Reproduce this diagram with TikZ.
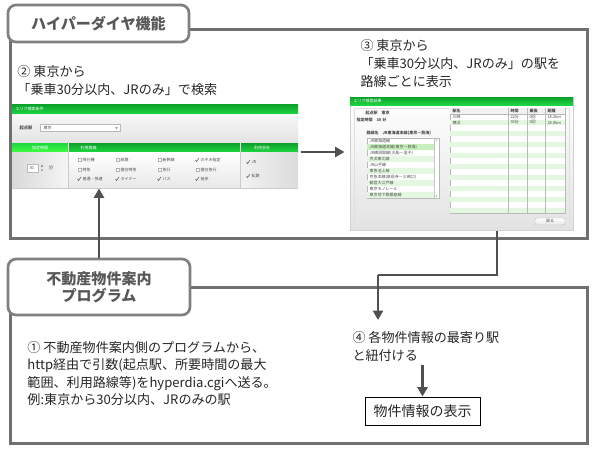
\documentclass[tikz,border=0pt]{standalone}
\usepackage{fontspec}
\setmainfont{Noto Sans CJK JP}
\usetikzlibrary{arrows.meta,positioning,calc}

\definecolor{framegray}{RGB}{112,112,112}
\definecolor{boxgray}{RGB}{128,128,128}
\definecolor{titlegray}{RGB}{88,88,88}
\definecolor{arrowgray}{RGB}{80,80,80}
\definecolor{hdgreen}{RGB}{30,214,66}
\definecolor{hdgreenD}{RGB}{12,160,42}
\definecolor{stripe}{RGB}{228,247,224}
\definecolor{selgreen}{RGB}{200,240,190}

\tikzset{every picture/.style={line width=0.75pt}}
\tikzset{
  frameline/.style={draw=framegray, line width=2.25pt},
  titlebox/.style={draw=boxgray, line width=2pt, rounded corners=6pt, fill=white, text=titlegray,
    font=\fontsize{11.3pt}{13pt}\selectfont\bfseries, align=center, inner sep=0pt},
  steptext/.style={anchor=west, inner sep=0pt, align=left, text=black!85,
    font=\fontsize{9.8pt}{13.2pt}\selectfont},
  flowarrow/.style={draw=arrowgray, line width=2pt, -{Triangle[length=7pt,width=7.5pt]}},
  shottxt/.style={anchor=west, inner sep=0pt, text=black!70, font=\fontsize{3pt}{3.6pt}\selectfont},
  shothd/.style={anchor=west, inner sep=0pt, text=white, font=\fontsize{3pt}{3.6pt}\selectfont},
  checkm/.style={draw=black!70, line width=0.35pt},
}

\begin{document}
\begin{tikzpicture}[x=0.75pt,y=0.75pt,yscale=-1,xscale=1]
\useasboundingbox (0,0) rectangle (597,454);

%Frames
\draw [frameline] (10,29) rectangle (587,238) ;
\draw [frameline] (10,287) rectangle (587,443) ;

% Title Nodes
\node [titlebox, minimum width=135.75pt, minimum height=27.75pt] (hdbox) at (98.5,23.5) {ハイパーダイヤ機能};
\node [titlebox, minimum width=136.5pt, minimum height=42pt] (progbox) at (99,287) {不動産物件案内\\プログラム};

%Screenshot nodes
\node [inner sep=0pt, minimum width=214.5pt, minimum height=63pt] (shotL) at (155,146) {};
\node [inner sep=0pt, minimum width=167.25pt, minimum height=99.75pt] (shotR) at (461.5,163.5) {};

%Left screenshot (search form)
\shade [top color=hdgreenD, bottom color=hdgreen] (12,104) rectangle (298,114) ;
\node [shothd] at (15,109) {エリア検索条件};
\shade [top color=gray!6, bottom color=gray!22] (12,114) rectangle (298,143) ;
\node [shottxt, font=\fontsize{3.2pt}{3.6pt}\selectfont\bfseries] at (19,128) {起点駅};
\draw [gray!55, line width=0.3pt, fill=white] (40,124.5) rectangle (120,131.5) ;
\node [shottxt] at (43,128) {東京};
\fill [gray!70] (115,127) -- (118,127) -- (116.5,129.5) -- cycle ;
\shade [top color=hdgreenD, bottom color=hdgreen] (12,143) rectangle (298,152) ;
\shade [top color=hdgreen, bottom color=green!75] (12,143) rectangle (68,152) ;
\draw [white, line width=0.5pt] (68,143) -- (68,152) (240,143) -- (240,152) ;
\node [shothd, anchor=center] at (40,147.5) {指定時間};
\node [shothd] at (80,147.5) {利用路線};
\node [shothd, anchor=center] at (262,147.5) {利用会社};
\shade [left color=gray!30, right color=gray!8] (12,152) rectangle (68,188) ;
\shade [top color=white, bottom color=gray!18] (68,152) rectangle (240,188) ;
\shade [left color=gray!10, right color=gray!28] (240,152) rectangle (298,188) ;
\draw [gray!40, line width=0.4pt] (68,152) -- (68,188) (240,152) -- (240,188) (12,188) -- (298,188) ;
\draw [gray!55, line width=0.3pt, fill=white] (27,164) rectangle (38,172) ;
\node [shottxt] at (29,168) {30};
\fill [black!60] (41,166.5) -- (43,166.5) -- (42,164.8) -- cycle (41,169.5) -- (43,169.5) -- (42,171.2) -- cycle ;
\node [shottxt, font=\fontsize{3.5pt}{4pt}\selectfont] at (48,168) {分};
\foreach \cx/\cy/\ct in {82/160/飛行機, 120/160/航路, 162/160/新幹線, 82/169.5/特急, 120/169.5/寝台特急, 162/169.5/急行, 200/169.5/寝台急行}
  {
  \draw [gray!60, line width=0.3pt, fill=white] (\cx-4,\cy-1.5) rectangle (\cx-1,\cy+1.5) ;
  \node [shottxt] at (\cx,\cy) {\ct};
  }
\foreach \cx/\cy/\ct in {200/160/のぞみ指定, 82/179/普通・快速, 120/179/ライナー, 162/179/バス, 200/179/徒歩, 251/162/JR, 251/176/私鉄}
  {
  \draw [checkm] (\cx-4.5,\cy) -- ++(1,1.5) -- ++(2.5,-3.5) ;
  \node [shottxt] at (\cx,\cy) {\ct};
  }

%Right screenshot (result list)
\shade [top color=white, bottom color=gray!22] (350,97) rectangle (573,230) ;
\draw [gray!35, line width=0.4pt] (350,97) rectangle (573,230) ;
\shade [top color=hdgreenD, bottom color=hdgreen] (350,97) rectangle (573,105) ;
\node [shothd] at (353,101) {エリア検索結果};
\draw [gray!25, line width=0.4pt] (354,108) rectangle (569,227) ;
\node [shottxt, font=\fontsize{3pt}{3.6pt}\selectfont\bfseries] at (365,113) {起点駅\quad 東京};
\node [shottxt, font=\fontsize{3pt}{3.6pt}\selectfont\bfseries] at (356,120) {指定時間\quad 30 分};
\node [shottxt, font=\fontsize{3pt}{3.6pt}\selectfont\bfseries] at (366,133) {路線名\quad JR東海道本線(東京－熱海)};
\draw [gray!55, line width=0.3pt, fill=white] (367,138) rectangle (439,198) ;
\foreach \i in {2,4,6,8,10}
  \fill [stripe] (367.4,{132+6*\i}) rectangle (434,{138+6*\i}) ;
\fill [selgreen] (367.4,144) rectangle (434,150) ;
\foreach \t [count=\i] in {JR東海道線, JR東海道本線(東京－熱海), JR横須賀線(大船－逗子), 京浜東北線, JR山手線, 東急池上線, 京急本線(泉岳寺－三崎口), 都営大江戸線, 東京モノレール, 東京地下鉄銀座線}
  \node [shottxt] at (369,{135+6*\i}) {\t};
\draw [gray!45, line width=0.3pt] (434,138) -- (434,198) ;
\fill [gray!55] (435.3,139.5) -- (437.7,139.5) -- (436.5,141.5) -- cycle (435.3,196.5) -- (437.7,196.5) -- (436.5,194.5) -- cycle ;
\draw [gray!55, line width=0.3pt, fill=white] (450,108) rectangle (565,213) ;
\fill [gray!10] (450.4,108.4) rectangle (564.6,114) ;
\foreach \i in {1,...,9}
  \fill [stripe] (450.4,{114+11*\i-5.5}) rectangle (564.6,{114+11*\i}) ;
\draw [gray!55, line width=0.3pt] (450,114) -- (565,114) (508,108) -- (508,213) (527,108) -- (527,213) (545,108) -- (545,213) ;
\node [shottxt, font=\fontsize{3pt}{3.6pt}\selectfont\bfseries] at (452,111) {駅名};
\node [shottxt, font=\fontsize{3pt}{3.6pt}\selectfont\bfseries] at (510,111) {時間};
\node [shottxt, font=\fontsize{3pt}{3.6pt}\selectfont\bfseries] at (529,111) {乗換};
\node [shottxt, font=\fontsize{3pt}{3.6pt}\selectfont\bfseries] at (547,111) {距離};
\foreach \ya/\sa/\ta/\ca/\da in {117/川崎/22分/0回/18.2km, 122.5/横浜/30分/0回/28.8km}
  {
  \node [shottxt] at (452,\ya) {\sa};
  \node [shottxt] at (510,\ya) {\ta};
  \node [shottxt] at (529,\ya) {\ca};
  \node [shottxt] at (547,\ya) {\da};
  }
\draw [gray!55, line width=0.3pt, rounded corners=1.5pt, top color=white, bottom color=gray!20] (535,218) rectangle (565,225) ;
\node [shottxt, anchor=center] at (550,221.5) {戻る};

% Text Node
\node [steptext] (step2) at (17,80.5) {② 東京から\\「乗車30分以内、JRのみ」で検索};
% Text Node
\node [steptext] (step3) at (360,63.5) {③ 東京から\\「乗車30分以内、JRのみ」の駅を\\路線ごとに表示};
% Text Node
\node [steptext] (step1) at (27,373.5) {① 不動産物件案内側のプログラムから、\\http経由で引数(起点駅、所要時間の最大\\範囲、利用路線等)をhyperdia.cgiへ送る。\\例:東京から30分以内、JRのみの駅};
% Text Node
\node [steptext] (step4) at (352,346.5) {④ 各物件情報の最寄り駅\\と紐付ける};
% Text Node
\node [draw=black, line width=0.75pt, minimum width=86.25pt, minimum height=21pt, inner sep=0pt,
  font=\fontsize{10.5pt}{12pt}\selectfont, text=black!85] (showbox) at (422.5,411) {物件情報の表示};

%Arrows
\coordinate (bend) at (378,275);
\coordinate (tip4) at (378,320);
\draw [flowarrow] (progbox.north) -- (progbox.north |- shotL.south) ;
\draw [flowarrow, shorten <=1.5pt, shorten >=3.75pt] ([yshift=4.5pt]shotL.east) -- ([yshift=4.5pt]shotL.east -| shotR.west) ;
\draw [flowarrow, -] ([xshift=26.6pt]shotR.south) |- (bend) ;
\draw [flowarrow] (bend) -- (tip4) ;
\draw [flowarrow, shorten <=2pt] (showbox.north |- step4.south) -- (showbox.north) ;

\end{tikzpicture}
\end{document}
